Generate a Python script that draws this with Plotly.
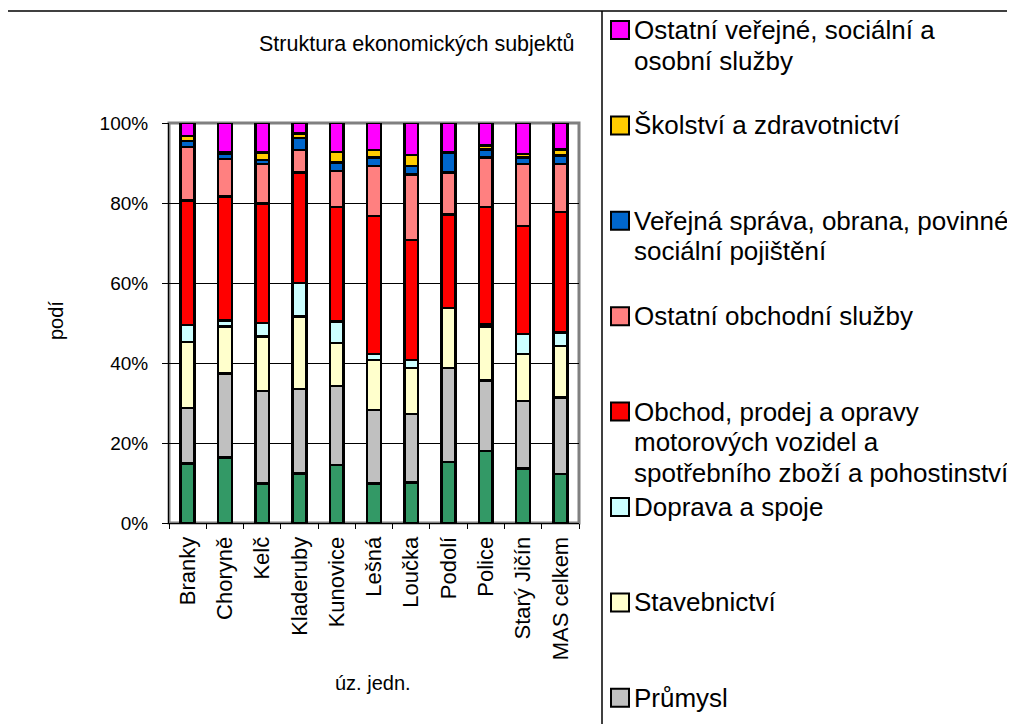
import plotly.graph_objects as go

categories = ["Branky", "Choryně", "Kelč", "Kladeruby", "Kunovice", "Lešná",
              "Loučka", "Podolí", "Police", "Starý Jičín", "MAS celkem"]

zemedelstvi = [14.9, 16.3, 9.9, 12.4, 14.5, 9.9, 10.1, 15.3, 18.0, 13.6, 12.2]
prumysl = [13.9, 21.1, 23.1, 21.1, 19.8, 18.3, 17.1, 23.5, 17.6, 16.9, 19.2]
stavebnictvi = [16.4, 11.7, 13.6, 18.1, 10.7, 12.6, 11.6, 14.9, 13.5, 11.7, 12.9]
doprava = [4.3, 1.5, 3.4, 8.4, 5.4, 1.4, 2.0, 0.0, 0.6, 5.0, 3.3]
obchod = [31.1, 30.9, 29.9, 27.6, 28.6, 34.5, 29.9, 23.4, 29.3, 27.0, 30.1]
ostatni_obchodni = [13.4, 9.4, 9.8, 5.6, 9.0, 12.6, 16.4, 10.5, 12.4, 15.5, 12.0]
verejna_sprava = [1.5, 1.4, 1.0, 3.1, 2.1, 2.1, 2.1, 5.0, 2.0, 1.7, 2.2]
skolstvi = [1.2, 0.4, 1.9, 1.1, 2.7, 1.8, 2.8, 0.0, 1.0, 0.8, 1.5]
ostatni_verejne = [3.3, 7.2, 7.4, 2.6, 7.2, 6.8, 8.0, 7.4, 5.6, 7.8, 6.6]

series = [
    ("Zemědělství, lesnictví, rybolov", zemedelstvi, "#339966"),
    ("Průmysl", prumysl, "#C0C0C0"),
    ("Stavebnictví", stavebnictvi, "#FFFFCC"),
    ("Doprava a spoje", doprava, "#CCFFFF"),
    ("Obchod, prodej a opravy\nmotorových vozidel a\nspotřebního zboží a pohostinství", obchod, "#FF0000"),
    ("Ostatní obchodní služby", ostatni_obchodni, "#FF8080"),
    ("Veřejná správa, obrana, povinné\nsociální pojištění", verejna_sprava, "#0066CC"),
    ("Školství a zdravotnictví", skolstvi, "#FFCC00"),
    ("Ostatní veřejné, sociální a\nosobní služby", ostatni_verejne, "#FF00FF"),
]

# page body has an 8px default margin: work in screen pixels and compensate
OFF = 8
SW, SH = 1015, 724
W, H = SW - OFF, SH - OFF
PL, PR, PT, PB = 169, 579, 123, 523   # plot area in screen pixels
FONT = "Liberation Sans, Arial, sans-serif"


def px(x):
    return (x - PL) / (PR - PL)


def py(y):
    return (PB - y) / (PB - PT)


fig = go.Figure()
for name, vals, color in series:
    fig.add_trace(go.Bar(
        x=categories, y=vals, name=name.replace("\n", " "),
        marker=dict(color=color, line=dict(color="black", width=2.5)),
        showlegend=False,
    ))

shapes = []
annotations = []

# outer chart border and legend box border
shapes.append(dict(type="line", xref="paper", yref="paper", x0=px(7), x1=px(1030),
                   y0=py(11), y1=py(11), line=dict(color="black", width=1.5)))
shapes.append(dict(type="line", xref="paper", yref="paper", x0=px(7), x1=px(7),
                   y0=py(11), y1=py(740), line=dict(color="black", width=1.5)))
shapes.append(dict(type="line", xref="paper", yref="paper", x0=px(602), x1=px(602),
                   y0=py(11), y1=py(740), line=dict(color="black", width=1.5)))
# plot area border (gray)
shapes.append(dict(type="rect", xref="paper", yref="paper", x0=0, x1=1, y0=0, y1=1,
                   line=dict(color="#808080", width=3), layer="below"))

# legend (top to bottom, last entry falls below the visible area)
legend_order = list(reversed(series))[:-1]
y0 = 30
pitch = 95.4
for i, (name, vals, color) in enumerate(legend_order):
    cy = y0 + i * pitch
    shapes.append(dict(type="rect", xref="paper", yref="paper",
                       x0=px(611), x1=px(629), y0=py(cy + 9), y1=py(cy - 9),
                       fillcolor=color, line=dict(color="black", width=2)))
    for k, line in enumerate(name.split("\n")):
        annotations.append(dict(text=line, xref="paper", yref="paper",
                                x=px(632), y=py(cy + k * 30.5), xanchor="left",
                                yanchor="middle", showarrow=False,
                                font=dict(family=FONT, size=26, color="black")))

annotations.append(dict(text="Struktura ekonomických subjektů", xref="paper", yref="paper",
                        x=px(416), y=py(44), xanchor="center", yanchor="middle",
                        showarrow=False, font=dict(family=FONT, size=21.5, color="black")))
annotations.append(dict(text="podí", xref="paper", yref="paper",
                        x=px(56), y=py(320), xanchor="center", yanchor="middle",
                        textangle=-90, showarrow=False,
                        font=dict(family=FONT, size=20, color="black")))
annotations.append(dict(text="úz. jedn.", xref="paper", yref="paper",
                        x=px(373), y=py(683), xanchor="center", yanchor="middle",
                        showarrow=False, font=dict(family=FONT, size=20, color="black")))

fig.update_layout(
    width=W, height=H,
    margin=dict(l=PL - OFF, r=SW - PR, t=PT - OFF, b=SH - PB, pad=0),
    barmode="stack", barnorm="percent", bargap=0.63,
    paper_bgcolor="white", plot_bgcolor="rgba(0,0,0,0)",
    shapes=shapes, annotations=annotations,
    font=dict(family=FONT, color="black"),
    xaxis=dict(
        range=[-0.5, len(categories) - 0.5], showgrid=False, zeroline=False,
        showline=True, linecolor="black", linewidth=1,
        ticks="outside", tickson="boundaries", ticklen=5, tickcolor="black",
        tickangle=-90, tickfont=dict(family=FONT, size=22, color="black"),
        ticklabelstandoff=4,
    ),
    yaxis=dict(
        range=[0, 100], dtick=20, ticksuffix="%", showgrid=True,
        gridcolor="black", gridwidth=1, zeroline=False,
        showline=True, linecolor="black", linewidth=1,
        ticks="outside", ticklen=6, tickcolor="black",
        tickfont=dict(family=FONT, size=19, color="black"),
        ticklabelstandoff=10,
    ),
)

fig.write_html("out.html")
